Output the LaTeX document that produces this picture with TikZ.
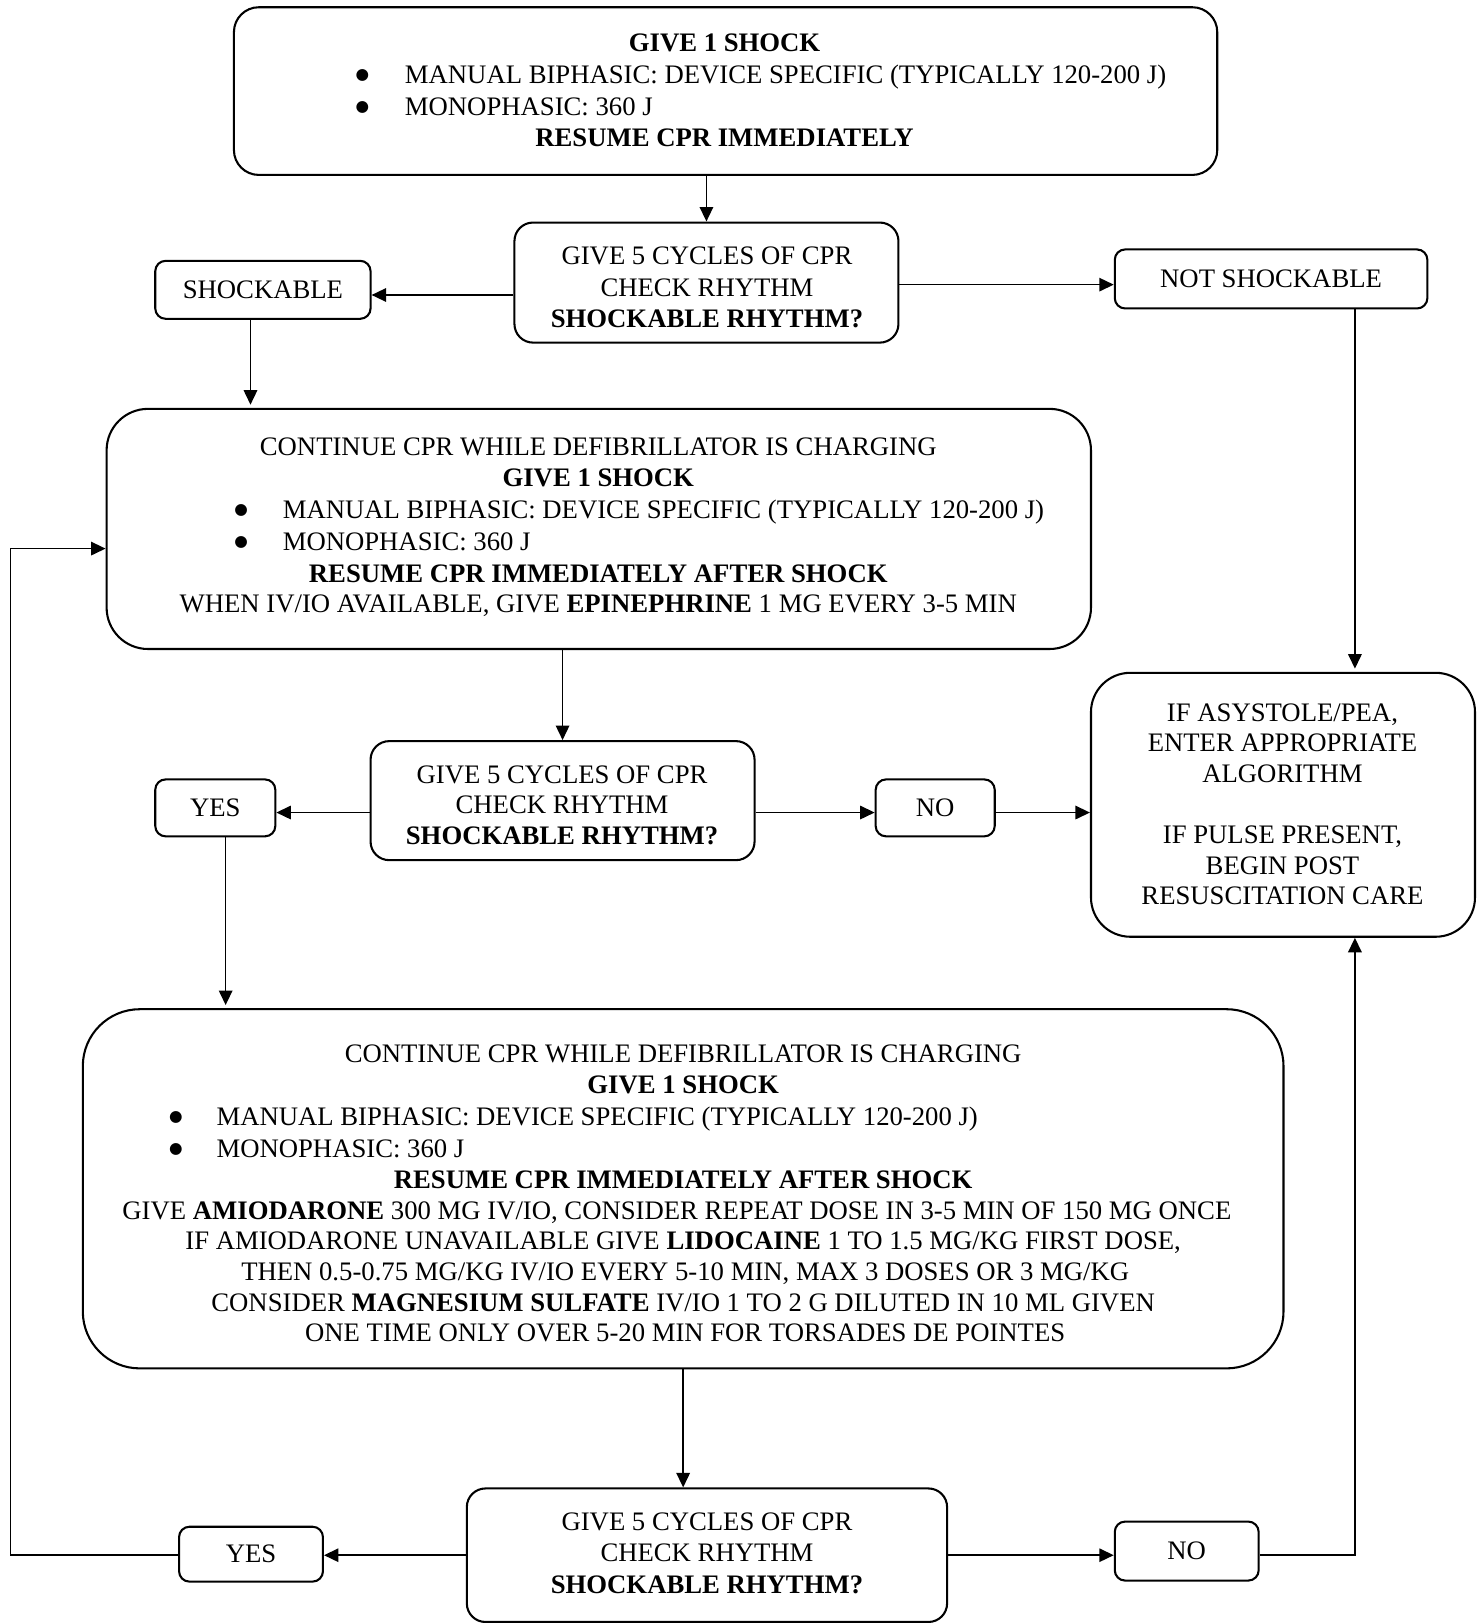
\documentclass[tikz,border=0pt]{standalone}
\usepackage{fontspec}
\setmainfont{Liberation Serif}
\newfontfamily\dvsans{DejaVu Sans}
\usetikzlibrary{arrows.meta}
\begin{document}
\begin{tikzpicture}[x=1pt,y=-1pt,font=\fontsize{25.8}{30.7}\selectfont,
  box/.style={draw, line width=2pt, rounded corners=#1, inner sep=0pt, align=center},
  box/.default=10pt,
  txt/.style={anchor=base, inner sep=0pt},
  txtw/.style={anchor=base west, inner sep=0pt},
  bul/.style={anchor=base, inner sep=0pt, font=\dvsans\fontsize{15}{15}\selectfont},
  arr/.style={line width=1.6pt, -{Triangle[length=14pt,width=13pt]}}]
\useasboundingbox (0,0) rectangle (1431,1568);

% boxes
\node[box=24pt, minimum width=950pt, minimum height=162pt] (b1) at (701,88) {};
\node[box=18pt, minimum width=371pt, minimum height=116pt] (b2) at (682.5,273) {};
\node[box, minimum width=208pt, minimum height=56pt] (shk) at (254,280) {SHOCKABLE};
\node[box, minimum width=302pt, minimum height=57pt] (nshk) at (1228,269.5) {NOT SHOCKABLE};
\node[box=40pt, minimum width=951pt, minimum height=232pt] (b3) at (578.5,511) {};
\node[box=38pt, minimum width=371pt, minimum height=255pt] (asys) at (1239.5,777.5) {};
\node[box=18pt, minimum width=371pt, minimum height=115pt] (b4) at (543.5,773.5) {};
\node[box, minimum width=116pt, minimum height=55pt] (yes1) at (208,780.5) {YES};
\node[box, minimum width=115pt, minimum height=55pt] (no1) at (903.5,780.5) {NO};
\node[box=55pt, minimum width=1160pt, minimum height=347pt] (b5) at (660,1148.5) {};
\node[box=18pt, minimum width=464pt, minimum height=129pt] (b6) at (683,1502.5) {};
\node[box, minimum width=139pt, minimum height=53pt] (yes2) at (242.5,1501.5) {YES};
\node[box, minimum width=139pt, minimum height=57pt] (no2) at (1146.5,1498.5) {NO};

% text of b1
\node[txt] (b1a) at (700,50) {\bfseries GIVE 1 SHOCK};
\node[bul] (b1d1) at (350,77) {●};
\node[txtw] (b1b) at (391,81) {MANUAL BIPHASIC: DEVICE SPECIFIC (TYPICALLY 120-200 J)};
\node[bul] (b1d2) at (350,108) {●};
\node[txtw] (b1c) at (391,112) {MONOPHASIC: 360 J};
\node[txt] (b1e) at (700,142) {\bfseries RESUME CPR IMMEDIATELY};

% text of b2
\node[txt] (b2a) at (683,256) {GIVE 5 CYCLES OF CPR};
\node[txt] (b2b) at (683,286) {CHECK RHYTHM};
\node[txt] (b2c) at (683,316) {\bfseries SHOCKABLE RHYTHM?};

% text of b3
\node[txt] (b3a) at (578,440) {CONTINUE CPR WHILE DEFIBRILLATOR IS CHARGING};
\node[txt] (b3b) at (578,470) {\bfseries GIVE 1 SHOCK};
\node[bul] (b3d1) at (233,497) {●};
\node[txtw] (b3c) at (273,501) {MANUAL BIPHASIC: DEVICE SPECIFIC (TYPICALLY 120-200 J)};
\node[bul] (b3d2) at (233,528) {●};
\node[txtw] (b3d) at (273,532) {MONOPHASIC: 360 J};
\node[txt] (b3e) at (578,563) {\bfseries RESUME CPR IMMEDIATELY AFTER SHOCK};
\node[txt] (b3f) at (578,592) {WHEN IV/IO AVAILABLE, GIVE \textbf{EPINEPHRINE} 1 MG EVERY 3-5 MIN};

% text of asys
\node[txt] (asa) at (1239,697) {IF ASYSTOLE/PEA,};
\node[txt] (asb) at (1239,726) {ENTER APPROPRIATE};
\node[txt] (asc) at (1239,756) {ALGORITHM};
\node[txt] (asd) at (1239,815) {IF PULSE PRESENT,};
\node[txt] (ase) at (1239,845) {BEGIN POST};
\node[txt] (asf) at (1239,874) {RESUSCITATION CARE};

% text of b4
\node[txt] (b4a) at (543,757) {GIVE 5 CYCLES OF CPR};
\node[txt] (b4b) at (543,786) {CHECK RHYTHM};
\node[txt] (b4c) at (543,816) {\bfseries SHOCKABLE RHYTHM?};

% text of b5
\node[txt] (b5a) at (660,1026) {CONTINUE CPR WHILE DEFIBRILLATOR IS CHARGING};
\node[txt] (b5b) at (660,1056) {\bfseries GIVE 1 SHOCK};
\node[bul] (b5d1) at (170,1083) {●};
\node[txtw] (b5c) at (209,1087) {MANUAL BIPHASIC: DEVICE SPECIFIC (TYPICALLY 120-200 J)};
\node[bul] (b5d2) at (170,1114) {●};
\node[txtw] (b5d) at (209,1118) {MONOPHASIC: 360 J};
\node[txt] (b5e) at (660,1148) {\bfseries RESUME CPR IMMEDIATELY AFTER SHOCK};
\node[txt] (b5f) at (654,1178) {GIVE \textbf{AMIODARONE} 300 MG IV/IO, CONSIDER REPEAT DOSE IN 3-5 MIN OF 150 MG ONCE};
\node[txt] (b5g) at (660,1207) {IF AMIODARONE UNAVAILABLE GIVE \textbf{LIDOCAINE} 1 TO 1.5 MG/KG FIRST DOSE,};
\node[txt] (b5h) at (662,1237) {THEN 0.5-0.75 MG/KG IV/IO EVERY 5-10 MIN, MAX 3 DOSES OR 3 MG/KG};
\node[txt] (b5i) at (660,1267) {CONSIDER \textbf{MAGNESIUM SULFATE} IV/IO 1 TO 2 G DILUTED IN 10 ML GIVEN};
\node[txt] (b5j) at (662,1296) {ONE TIME ONLY OVER 5-20 MIN FOR TORSADES DE POINTES};

% text of b6
\node[txt] (b6a) at (683,1479) {GIVE 5 CYCLES OF CPR};
\node[txt] (b6b) at (683,1509) {CHECK RHYTHM};
\node[txt] (b6c) at (683,1539) {\bfseries SHOCKABLE RHYTHM?};

% connectors
\draw[arr] (b1.south -| b2.north) -- (b2.north);
\draw[arr] ([yshift=-12pt]b2.west) -- ([yshift=-12pt]b2.west -| shk.east);
\draw[arr] ([yshift=-2pt]b2.east) -- ([yshift=-2pt]b2.east -| nshk.west);
\draw[arr] ([xshift=-12pt]shk.south) -- ([xshift=-12pt,yshift=3pt]shk.south |- b3.north);
\draw[arr] ([xshift=81pt]nshk.south) -- ([xshift=81pt,yshift=3pt]nshk.south |- asys.north);
\draw[arr] (b3.south -| b4.north) -- (b4.north);
\draw[arr] ([yshift=-11.5pt]b4.west) -- ([yshift=-11.5pt]b4.west -| yes1.east);
\draw[arr] ([yshift=-11.5pt]b4.east) -- ([yshift=-11.5pt]b4.east -| no1.west);
\draw[arr] ([yshift=-4.5pt]no1.east) -- ([yshift=-4.5pt]no1.east -| asys.west);
\draw[arr] ([xshift=10pt]yes1.south) -- ([xshift=10pt,yshift=3pt]yes1.south |- b5.north);
\draw[arr] (b5.south) -- (b5.south |- b6.north);
\draw[arr] (b6.west) -- (b6.west -| yes2.east);
\draw[arr] (b6.east) -- (b6.east -| no2.west);
\draw[arr] (no2.east |- b6.east) -| ([xshift=69.5pt]asys.south);
\coordinate (lc) at (10,1502.5);
\draw[arr] (yes2.west |- b6.west) -- (lc) |- ([yshift=-19pt]b3.west);
\end{tikzpicture}
\end{document}
